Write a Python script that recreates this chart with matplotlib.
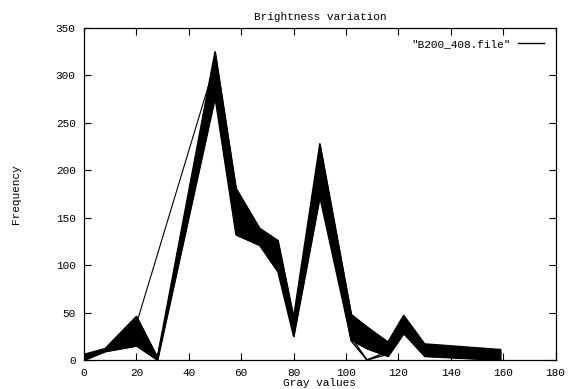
import matplotlib
matplotlib.use("Agg")
import matplotlib.pyplot as plt
import numpy as np

# ---- data ----
gray_values = [0, 8, 20, 28, 50, 58, 67, 74, 80, 90, 102, 108, 116, 122, 130, 159]
# lower / upper edge of the dense bundle of curves
freq_low = [0, 9, 15, 0, 277, 132, 121, 93, 25, 172, 21, 12, 4, 28, 4, 0]
freq_high = [6, 12, 46, 3, 325, 181, 139, 126, 45, 228, 48, 35, 19, 47, 17, 11]
# a few individual curves of the bundle
curve_a = [2, 10, 30, 1, 300, 160, 130, 110, 35, 200, 24, 0, 9, 36, 8, 4]
curve_b = [4, 11, 25, 2, 290, 150, 128, 104, 30, 190, 20, 0, 6, 33, 6, 2]
curve_c = [3, 10, 38, 1, 310, 170, 134, 118, 40, 215, 40, 30, 15, 42, 13, 8]
# one outlying curve that skips the 28 bin
outlier_x = [0, 8, 20, 50, 58]
outlier_y = [3, 10, 38, 312, 175]

x_ticks = [0, 20, 40, 60, 80, 100, 120, 140, 160, 180]
y_ticks = [0, 50, 100, 150, 200, 250, 300, 350]

plt.rcParams['font.family'] = ['Liberation Mono', 'DejaVu Sans Mono']
plt.rcParams['font.size'] = 8

fig = plt.figure(figsize=(5.70, 3.89), dpi=100)
ax = fig.add_axes([0.1474, 0.0746, 0.8272, 0.8534])

ax.fill_between(gray_values, freq_low, freq_high, color='black', lw=0.8,
                edgecolor='black')
line, = ax.plot(gray_values, freq_low, color='black', lw=1.0,
                label='"B200_408.file"')
ax.plot(gray_values, freq_high, color='black', lw=1.0)
for c in (curve_a, curve_b, curve_c):
    ax.plot(gray_values, c, color='black', lw=1.0)
ax.plot(outlier_x, outlier_y, color='black', lw=0.8)

ax.set_xlim(0, 180)
ax.set_ylim(0, 350)
ax.set_xticks(x_ticks)
ax.set_yticks(y_ticks)
ax.tick_params(direction='in', length=5, width=0.8, top=True, right=True,
               labelsize=8, pad=6, colors='black')
for s in ax.spines.values():
    s.set_linewidth(0.9)
    s.set_color('black')

ax.set_title('Brightness variation', fontsize=8, pad=6)
ax.set_xlabel('Gray values', fontsize=8, labelpad=0)
ax.set_ylabel('Frequency', fontsize=8, labelpad=25)

leg = ax.legend(loc='upper right', frameon=False, markerfirst=False,
                handlelength=2.4, fontsize=8, borderaxespad=0.6,
                handletextpad=0.6)

fig.savefig('out.png', dpi=100)
